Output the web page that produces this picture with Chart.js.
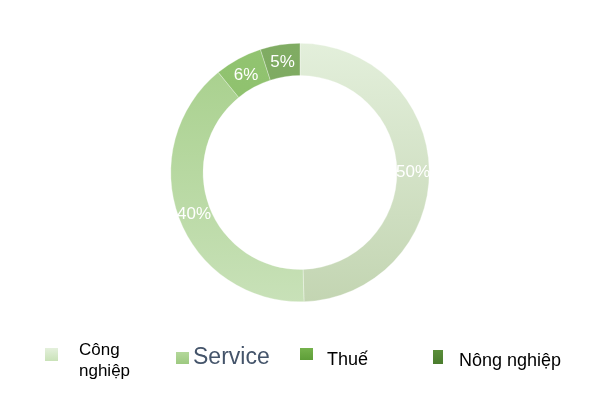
<!DOCTYPE html>
<html lang="vi">
<head>
  <meta charset="UTF-8" />
  <title>Cơ cấu</title>
  <script src="https://cdn.jsdelivr.net/npm/chart.js"></script>
  <style>
    html, body { margin: 0; padding: 0; background: #fff; }
    body { width: 600px; height: 394px; position: relative; overflow: hidden; font-family: "Liberation Sans", Arial, sans-serif; }
    #chart { position: absolute; left: 0; top: 0; }
    .legend-box { position: absolute; }
    .legend-text { position: absolute; white-space: nowrap; }
  </style>
</head>
<body>
  <canvas id="chart" width="600" height="394"></canvas>
  <div id="legend"></div>

  <script>
    // data
    const categories = ['Công nghiệp', 'Service', 'Thuế', 'Nông nghiệp'];
    const shares = [50, 40, 6, 5];
    // slice colours: [top, bottom] of a vertical gradient
    const sliceColors = [
      ['#e3efdb', '#c3d5b2'],
      ['#a6cf8a', '#c8e1b8'],
      ['#92c471', '#86b865'],
      ['#80ac63', '#76a25b']
    ];
    const legendColors = [
      ['#e4f0dc', '#c9e2b8'],
      ['#b4d89b', '#9dc980'],
      ['#75b24c', '#5e9e38'],
      ['#5a8e3a', '#4a7c2d']
    ];

    function sliceGradient(context) {
      const chart = context.chart;
      const area = chart.chartArea;
      if (!area) return sliceColors[context.dataIndex][0];
      const c = sliceColors[context.dataIndex];
      const g = chart.ctx.createLinearGradient(0, area.top, 0, area.bottom);
      g.addColorStop(0, c[0]);
      g.addColorStop(1, c[1]);
      return g;
    }

    // draws the percentage on each slice
    const sliceLabels = {
      id: 'sliceLabels',
      afterDatasetsDraw(chart) {
        const ctx = chart.ctx;
        const meta = chart.getDatasetMeta(0);
        ctx.save();
        ctx.font = '17px "Liberation Sans", Arial, sans-serif';
        ctx.fillStyle = '#ffffff';
        ctx.textAlign = 'center';
        ctx.textBaseline = 'middle';
        meta.data.forEach((arc, i) => {
          const p = arc.getCenterPoint();
          ctx.fillText(shares[i] + '%', p.x, p.y + 2);
        });
        ctx.restore();
      }
    };

    new Chart(document.getElementById('chart'), {
      type: 'doughnut',
      data: {
        labels: categories,
        datasets: [{
          data: shares,
          backgroundColor: sliceGradient,
          borderColor: 'rgba(255,255,255,0.6)',
          borderWidth: 0.5
        }]
      },
      options: {
        responsive: false,
        animation: false,
        cutout: '75%',
        layout: { padding: { top: 43, bottom: 92 } },
        plugins: {
          legend: { display: false },
          tooltip: { enabled: false }
        }
      },
      plugins: [sliceLabels]
    });

    // legend, laid out like the original
    const legendLayout = [
      { box: [45, 348, 13, 13], text: [79, 339], size: 17, lh: 21, color: '#000', label: 'Công<br>nghiệp' },
      { box: [176, 352, 13, 12], text: [193, 341], size: 23, lh: 30, color: '#44546a' },
      { box: [300, 348, 13, 12], text: [327, 348], size: 18, lh: 23, color: '#000' },
      { box: [433, 350, 10, 14], text: [459, 349], size: 18, lh: 23, color: '#000' }
    ];
    const legend = document.getElementById('legend');
    categories.forEach((name, i) => {
      const l = legendLayout[i];
      const box = document.createElement('div');
      box.className = 'legend-box';
      box.style.left = l.box[0] + 'px';
      box.style.top = l.box[1] + 'px';
      box.style.width = l.box[2] + 'px';
      box.style.height = l.box[3] + 'px';
      box.style.background = 'linear-gradient(' + legendColors[i][0] + ',' + legendColors[i][1] + ')';
      legend.appendChild(box);
      const t = document.createElement('div');
      t.className = 'legend-text';
      t.style.left = l.text[0] + 'px';
      t.style.top = l.text[1] + 'px';
      t.style.fontSize = l.size + 'px';
      t.style.lineHeight = l.lh + 'px';
      t.style.color = l.color;
      t.innerHTML = l.label || name;
      legend.appendChild(t);
    });
  </script>
</body>
</html>
